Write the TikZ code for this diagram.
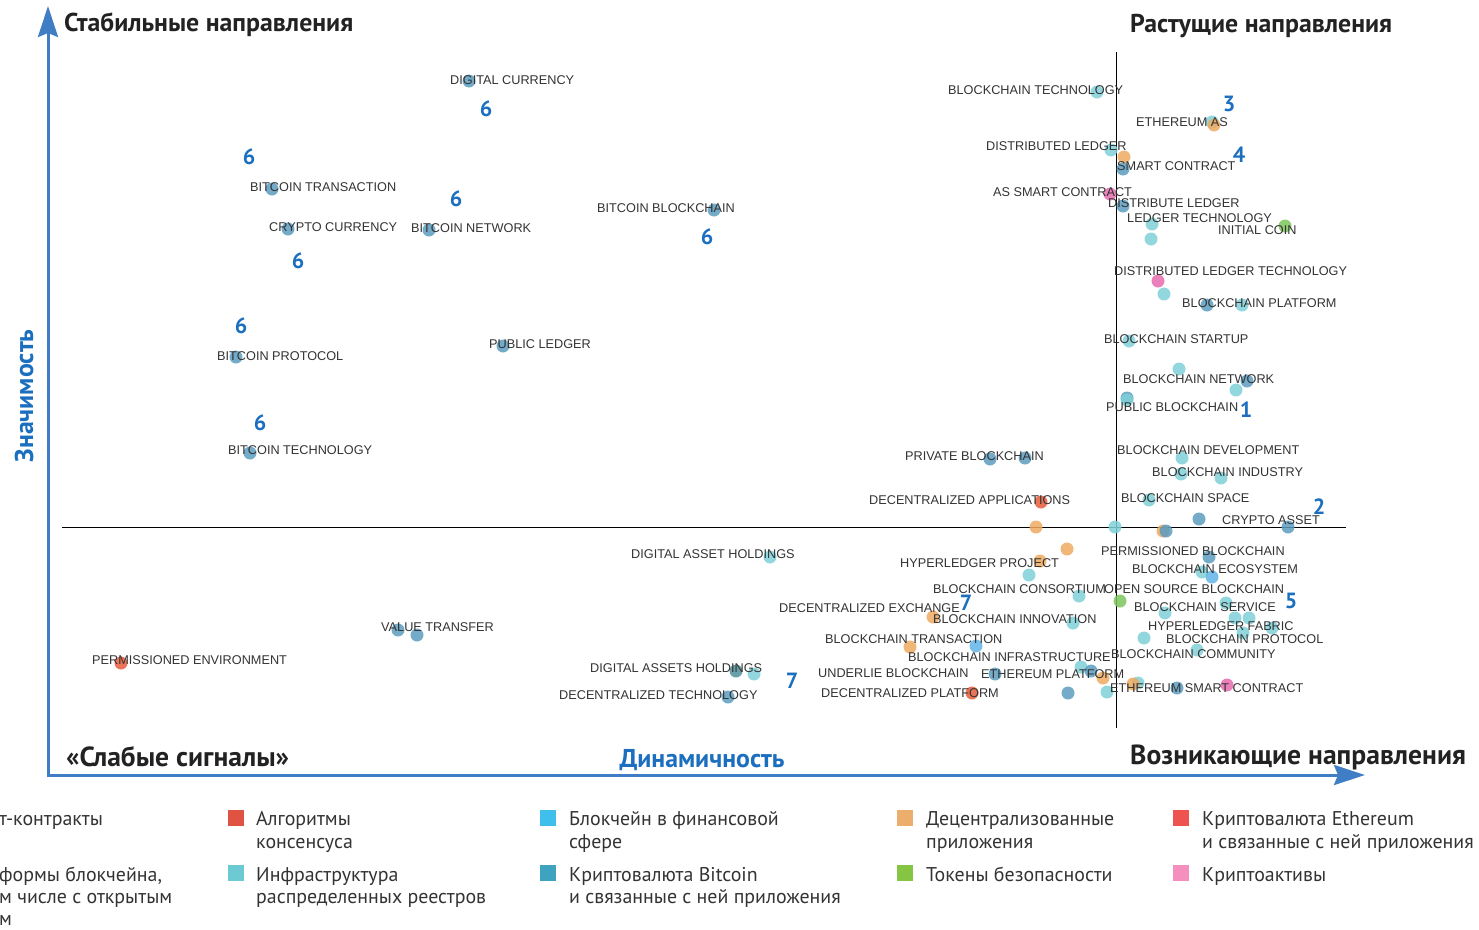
\documentclass[tikz,border=0pt]{standalone}
\usepackage{fontspec}
\setmainfont{Liberation Sans}
\newfontfamily\ptsans{PT Sans}
\usetikzlibrary{arrows.meta}

\definecolor{axisblue}{HTML}{3F7DC4}
\definecolor{numblue}{HTML}{1B6FBE}
\definecolor{lbltext}{HTML}{333333}
\definecolor{headtext}{HTML}{222222}
% dot colours
\definecolor{cC}{HTML}{80D0D8}
\definecolor{cS}{HTML}{5B9CC0}
\definecolor{cO}{HTML}{EDAA62}
\definecolor{cR}{HTML}{E85A3A}
\definecolor{cP}{HTML}{E76BAE}
\definecolor{cG}{HTML}{7DC65A}
\definecolor{cB}{HTML}{62B4E8}
\definecolor{cT}{HTML}{4F9098}
% key colours
\definecolor{kRed}{HTML}{E05343}
\definecolor{kCyan}{HTML}{6CCAD3}
\definecolor{kBlue}{HTML}{3FC0EC}
\definecolor{kSteel}{HTML}{3FA3C0}
\definecolor{kOrange}{HTML}{ECAE6C}
\definecolor{kGreen}{HTML}{86C443}
\definecolor{kEth}{HTML}{EF5350}
\definecolor{kPink}{HTML}{F48FBE}

\begin{document}
\begin{tikzpicture}[x=1pt,y=-1pt,
  dot/.style={circle,inner sep=0pt,minimum size=13pt,fill=#1,fill opacity=0.85,draw=none},
  lbl/.style={anchor=west,inner sep=0pt,font=\fontsize{12.7}{14}\selectfont,text=lbltext},
  num/.style={inner sep=0pt,font=\ptsans\bfseries\fontsize{22}{24}\selectfont,text=numblue},
  head/.style={anchor=base west,inner sep=0pt,font=\ptsans\bfseries\fontsize{25.8}{28}\selectfont,text=headtext},
  headlow/.style={anchor=base west,inner sep=0pt,font=\ptsans\bfseries\fontsize{27.6}{30}\selectfont,text=headtext},
  axlbl/.style={inner sep=0pt,font=\ptsans\bfseries\fontsize{25.8}{28}\selectfont,text=numblue},
  keysq/.style={inner sep=0pt,minimum size=16pt,fill=#1,draw=none},
  keytxt/.style={anchor=base west,inner sep=0pt,font=\ptsans\fontsize{19.9}{22}\selectfont,text=lbltext},
  axis/.style={line width=3pt,color=axisblue,line join=miter},
  quad/.style={line width=1pt,color=black}
]
\useasboundingbox (0,0) rectangle (1479,929);
\clip (0,0) rectangle (1479,929);

% axes
\coordinate (ytip) at (48,6);
\coordinate (orig) at (48,775);
\coordinate (xtip) at (1365,775);
\draw[axis,{Stealth[length=31pt,width=20pt,inset=4pt]}-{Stealth[length=31pt,width=20pt,inset=4pt]}] (ytip) -- (orig) -- (xtip);

% quadrant dividers
\coordinate (hl) at (62,527);
\coordinate (hr) at (1346,527);
\coordinate (vt) at (1116,52);
\coordinate (vb) at (1116,728);
\draw[quad] (hl) -- (hr);
\draw[quad] (vt) -- (vb);

% dots
\foreach \x/\y/\c [count=\i] in {
  469/81/cS, 272/189/cS, 288/229/cS, 429/230/cS, 714/210/cS, 236/357/cS,
  503/346/cS, 250/453/cS, 990/459/cS, 1025/458/cS, 1041/502/cR,
  1097/92/cC, 1212/122/cC, 1214/125/cO, 1111/150/cC, 1124/157/cO,
  1123/169/cS, 1110/194/cP, 1123/206/cS, 1152/224/cC, 1285/226/cG,
  1151/239/cC, 1158/281/cP, 1164/294/cC, 1207/305/cS, 1242/305/cC,
  1129/341/cC, 1179/369/cC, 1247/381/cS, 1236/390/cC, 1127/398/cS,
  1127/400/cC, 1182/458/cC, 1181/474/cC, 1221/478/cC, 1149/500/cC,
  1199/519/cS, 1288/527/cS, 1036/527/cO, 1115/527/cC, 1163/531/cO,
  1166/531/cS, 1067/549/cO, 1040/561/cO, 1209/557/cS, 1029/575/cC,
  1202/572/cC, 1212/577/cB, 1079/596/cC, 1120/601/cG, 1226/603/cC,
  1165/613/cC, 933/617/cO, 1073/623/cC, 1235/618/cC, 1249/618/cC,
  1272/628/cC, 1243/633/cC, 1144/638/cC, 910/647/cO, 976/646/cB,
  1197/650/cC, 1081/667/cC, 1091/671/cS, 995/674/cS, 1103/678/cO,
  972/693/cR, 1068/693/cS, 1107/692/cC, 1138/683/cC, 1133/684/cO,
  1177/688/cS, 1227/685/cP, 770/557/cC, 398/630/cS, 417/635/cS,
  121/663/cR, 736/671/cT, 754/674/cC, 728/697/cS}
  \node[dot=\c] (d\i) at (\x,\y) {};

% term labels
\foreach \x/\y/\t [count=\i] in {
  450/80/DIGITAL CURRENCY, 250/187/BITCOIN TRANSACTION, 269/227/CRYPTO CURRENCY,
  411/228/BITCOIN NETWORK, 597/208/BITCOIN BLOCKCHAIN, 217/356/BITCOIN PROTOCOL,
  489/344/PUBLIC LEDGER, 228/450/BITCOIN TECHNOLOGY, 905/456/PRIVATE BLOCKCHAIN,
  869/500/DECENTRALIZED APPLICATIONS, 948/90/BLOCKCHAIN TECHNOLOGY,
  1136/122/ETHEREUM AS, 986/146/DISTRIBUTED LEDGER, 1117/166/SMART CONTRACT,
  993/192/AS SMART CONTRACT, 1108/203/DISTRIBUTE LEDGER, 1127/218/LEDGER TECHNOLOGY,
  1218/230/INITIAL COIN, 1114/271/DISTRIBUTED LEDGER TECHNOLOGY,
  1182/303/BLOCKCHAIN PLATFORM, 1104/339/BLOCKCHAIN STARTUP,
  1123/379/BLOCKCHAIN NETWORK, 1106/407/PUBLIC BLOCKCHAIN,
  1117/450/BLOCKCHAIN DEVELOPMENT, 1152/472/BLOCKCHAIN INDUSTRY,
  1121/498/BLOCKCHAIN SPACE, 1222/520/CRYPTO ASSET, 631/554/DIGITAL ASSET HOLDINGS,
  1101/551/PERMISSIONED BLOCKCHAIN, 900/563/HYPERLEDGER PROJECT,
  1132/569/BLOCKCHAIN ECOSYSTEM, 933/589/BLOCKCHAIN CONSORTIUM,
  1104/589/OPEN SOURCE BLOCKCHAIN, 779/608/DECENTRALIZED EXCHANGE,
  1134/607/BLOCKCHAIN SERVICE, 933/619/BLOCKCHAIN INNOVATION, 381/627/VALUE TRANSFER,
  1148/626/HYPERLEDGER FABRIC, 825/639/BLOCKCHAIN TRANSACTION,
  1166/639/BLOCKCHAIN PROTOCOL, 92/660/PERMISSIONED ENVIRONMENT,
  908/657/BLOCKCHAIN INFRASTRUCTURE, 1111/654/BLOCKCHAIN COMMUNITY,
  590/668/DIGITAL ASSETS HOLDINGS, 818/673/UNDERLIE BLOCKCHAIN,
  981/674/ETHEREUM PLATFORM, 559/695/DECENTRALIZED TECHNOLOGY,
  821/693/DECENTRALIZED PLATFORM, 1110/688/ETHEREUM SMART CONTRACT}
  \node[lbl] (l\i) at (\x,\y) {\t};

% cluster numbers
\foreach \x/\y/\n [count=\i] in {
  486/109/6, 249/157/6, 456/199/6, 298/261/6, 707/237/6, 241/326/6, 260/423/6,
  1229/104/3, 1239/155/4, 1246/410/1, 1319/507/2, 1291/601/5, 966/603/7, 792/681/7}
  \node[num] (n\i) at (\x,\y) {\n};

% quadrant headings and axis titles
\node[head] (hStable) at (64,31) {Стабильные направления};
\node[head] (hGrow) at (1130,32) {Растущие направления};
\node[headlow] (hWeak) at (66,766) {«Слабые сигналы»};
\node[headlow] (hEmerge) at (1130,764) {Возникающие направления};
\node[axlbl,anchor=base] (xTitle) at (702,767) {Динамичность};
\node[axlbl,anchor=base,rotate=90] (yTitle) at (33,396) {Значимость};

% key
\foreach \x/\y/\c [count=\i] in {
  236/818/kRed, 236/873/kCyan, 548/818/kBlue, 548/873/kSteel,
  905/818/kOrange, 905/873/kGreen, 1181/818/kEth, 1181/873/kPink}
  \node[keysq=\c] (k\i) at (\x,\y) {};

\foreach \x/\y/\t [count=\i] in {
  -1/825/т-контракты, -1/881/{формы блокчейна,}, -1/903/м числе с открытым, -1/925/м,
  256/825/Алгоритмы, 256/848/консенсуса,
  256/881/Инфраструктура, 256/903/распределенных реестров,
  569/825/Блокчейн в финансовой, 569/848/сфере,
  569/881/Криптовалюта Bitcoin, 569/903/и связанные с ней приложения,
  926/825/Децентрализованные, 926/848/приложения,
  926/881/Токены безопасности,
  1202/825/Криптовалюта Ethereum, 1202/848/и связанные с ней приложения,
  1202/881/Криптоактивы}
  \node[keytxt] (t\i) at (\x,\y) {\t};
\end{tikzpicture}
\end{document}
